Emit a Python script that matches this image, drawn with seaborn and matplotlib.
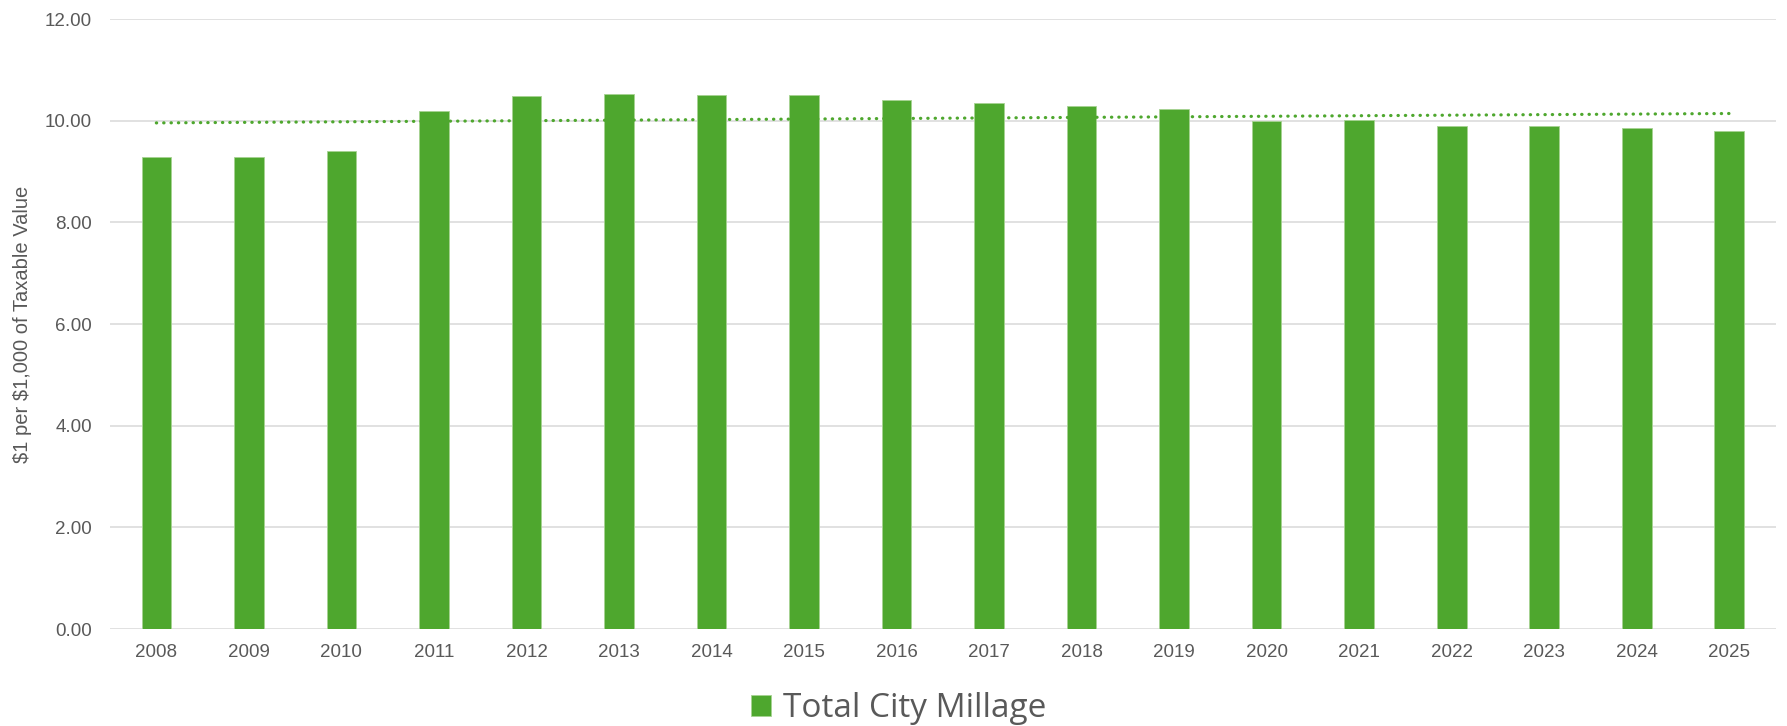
import numpy as np
import pandas as pd
import matplotlib
matplotlib.use("Agg")
import matplotlib.pyplot as plt
import seaborn as sns

# data
years = [2008, 2009, 2010, 2011, 2012, 2013, 2014, 2015, 2016,
         2017, 2018, 2019, 2020, 2021, 2022, 2023, 2024, 2025]
millage = [9.29, 9.29, 9.40, 10.19, 10.48, 10.52, 10.50, 10.50, 10.40,
           10.35, 10.30, 10.24, 10.00, 10.01, 9.90, 9.90, 9.86, 9.79]
series_name = "Total City Millage"
y_label = r"\$1 per \$1,000 of Taxable Value"
y_ticks = [0, 2, 4, 6, 8, 10, 12]

GREEN = "#4EA72E"
GRID = "#D9D9D9"
TEXT = "#595959"

df = pd.DataFrame({"year": years, "value": millage})

sns.set_style("white")
plt.rcParams["font.family"] = ["Liberation Sans", "DejaVu Sans"]

fig = plt.figure(figsize=(17.87, 7.26), dpi=100)
ax = fig.add_axes([0.0616, 0.1336, 0.932, 0.840])

sns.barplot(data=df, x="year", y="value", native_scale=True, width=0.32,
            color=GREEN, saturation=1, edgecolor="#A6D392", linewidth=0.6,
            label=series_name, ax=ax, zorder=3)

# linear trendline
sns.regplot(data=df, x="year", y="value", scatter=False, ci=None, truncate=True,
            color=GREEN, ax=ax,
            line_kws=dict(linestyle=(0, (0.1, 2.2)), linewidth=2.3,
                          dash_capstyle="round", zorder=4))

ax.set_xlim(2007.5, 2025.5)
ax.set_ylim(0, 12)
ax.set_xticks(years)
ax.set_xticklabels([str(y) for y in years])
ax.set_yticks(y_ticks)
ax.set_yticklabels([f"{v:.2f}" for v in y_ticks])

ax.grid(axis="y", color=GRID, linewidth=1.1, zorder=0)
ax.grid(axis="x", visible=False)
for s in ax.spines.values():
    s.set_visible(False)

ax.tick_params(axis="both", length=0, colors=TEXT, labelsize=13.5)
ax.tick_params(axis="x", pad=11)
ax.tick_params(axis="y", pad=13)
ax.set_xlabel("")
ax.set_ylabel(y_label, fontsize=14.5, color=TEXT, labelpad=9)

ax.legend(loc="center", bbox_to_anchor=(0.503, 0.024), bbox_transform=fig.transFigure,
          frameon=False, handlelength=0.6, handleheight=0.6,
          handletextpad=0.35, labelcolor=TEXT,
          prop={"family": ["Open Sans", "DejaVu Sans"], "size": 24})

fig.savefig("out.png", dpi=100)
